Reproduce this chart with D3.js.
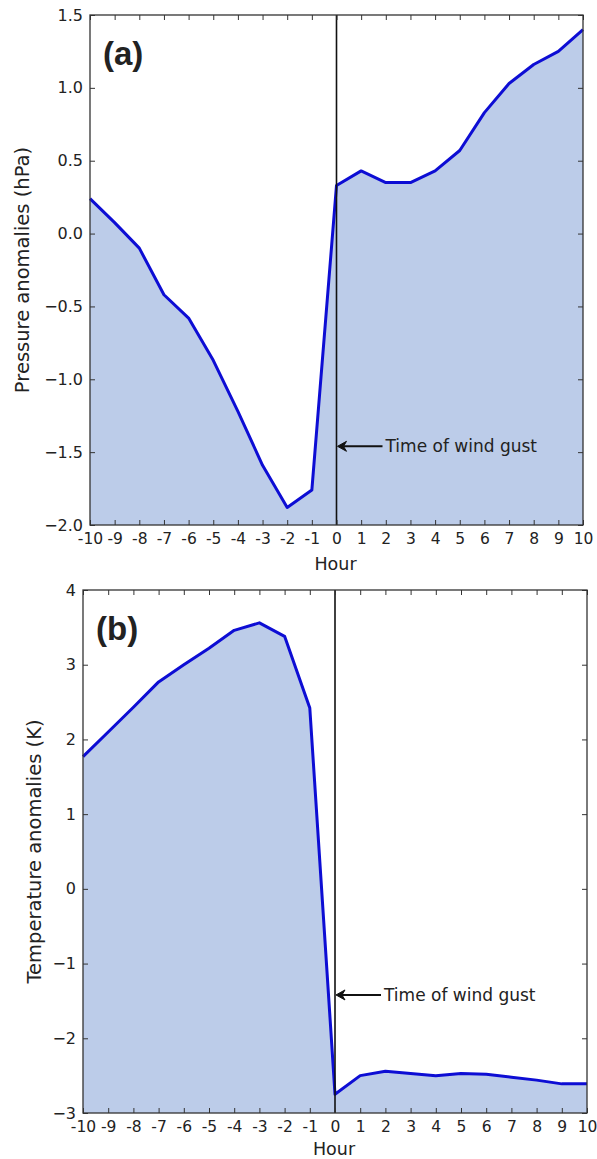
<!DOCTYPE html>
<html>
<head>
<meta charset="utf-8">
<script src="https://cdn.jsdelivr.net/npm/d3@7"></script>
<style>
  body { margin: 0; background: #fff; }
  svg text { font-family: "DejaVu Sans", sans-serif; fill: #222; }
</style>
</head>
<body>
<div id="chart"></div>
<script>
const hours = d3.range(-10, 11);
const pressure = [0.24, 0.075, -0.10, -0.42, -0.58, -0.87, -1.22, -1.59, -1.88, -1.76,
  0.33, 0.43, 0.35, 0.35, 0.43, 0.57, 0.83, 1.03, 1.16, 1.25, 1.40];
const temperature = [1.77, 2.1, 2.43, 2.77, 3.0, 3.22, 3.46, 3.56, 3.38, 2.42,
  -2.75, -2.5, -2.44, -2.47, -2.5, -2.47, -2.48, -2.52, -2.56, -2.61, -2.61];
const pressureTicks = [-2.0, -1.5, -1.0, -0.5, 0.0, 0.5, 1.0, 1.5];
const temperatureTicks = [-3, -2, -1, 0, 1, 2, 3, 4];
const annotation = "Time of wind gust";

const width = 597, height = 1159;
const svg = d3.select("#chart").append("svg")
  .attr("width", width).attr("height", height);

// y ticks use a true minus, x ticks a plain hyphen
const fmtMinus = s => s.replace("-", "\u2212");

function panel(cfg) {
  const x = d3.scaleLinear().domain([-10, 10]).range([cfg.left, cfg.right]);
  const y = d3.scaleLinear().domain(cfg.domain).range([cfg.bottom, cfg.top]);
  const g = svg.append("g");
  const data = hours.map((h, i) => ({ h, v: cfg.values[i] }));

  // filled area down to bottom of axes
  g.append("path")
    .datum(data)
    .attr("fill", "#bccce9")
    .attr("d", d3.area().x(d => x(d.h)).y0(cfg.bottom).y1(d => y(d.v)));

  g.append("path")
    .datum(data)
    .attr("fill", "none")
    .attr("stroke", "#0d0dd4")
    .attr("stroke-width", 3)
    .attr("stroke-linejoin", "round")
    .attr("d", d3.line().x(d => x(d.h)).y(d => y(d.v)));

  // vertical line at hour 0
  g.append("line")
    .attr("x1", x(0)).attr("x2", x(0))
    .attr("y1", cfg.top).attr("y2", cfg.bottom)
    .attr("stroke", "#111").attr("stroke-width", 1.6);

  // axes (ticks inward on all sides)
  const tl = 5;
  g.append("g").attr("transform", `translate(0,${cfg.bottom})`)
    .call(d3.axisBottom(x).tickValues(hours).tickSize(-tl).tickPadding(8).tickFormat(d => String(d)))
    .call(a => a.selectAll("text").attr("font-size", 15.5));
  g.append("g").attr("transform", `translate(0,${cfg.top})`)
    .call(d3.axisTop(x).tickValues(hours).tickSize(-tl).tickFormat(""));
  g.append("g").attr("transform", `translate(${cfg.left},0)`)
    .call(d3.axisLeft(y).tickValues(cfg.ticks).tickSize(-tl).tickPadding(7)
      .tickFormat(d => fmtMinus(d3.format(cfg.fmt)(d))))
    .call(a => a.selectAll("text").attr("font-size", 16));
  g.append("g").attr("transform", `translate(${cfg.right},0)`)
    .call(d3.axisRight(y).tickValues(cfg.ticks).tickSize(-tl).tickFormat(""));
  g.selectAll(".domain").remove();
  g.selectAll(".tick line").attr("stroke", "#333");
  g.selectAll(".tick text").attr("fill", "#222");

  g.append("rect")
    .attr("x", cfg.left).attr("y", cfg.top)
    .attr("width", cfg.right - cfg.left).attr("height", cfg.bottom - cfg.top)
    .attr("fill", "none").attr("stroke", "#333").attr("stroke-width", 1.3);

  // labels
  g.append("text")
    .attr("x", (cfg.left + cfg.right) / 2 - 1).attr("y", cfg.bottom + cfg.hourDy)
    .attr("text-anchor", "middle").attr("font-size", 17.5).text("Hour");
  g.append("text")
    .attr("transform", `translate(${cfg.ylabelX},${(cfg.top + cfg.bottom) / 2}) rotate(-90)`)
    .attr("text-anchor", "middle").attr("font-size", 19.5).text(cfg.ylabel);
  g.append("text")
    .attr("x", cfg.left + 13).attr("y", cfg.top + 50)
    .style("font-family", "'Liberation Sans', Arial, sans-serif")
    .attr("font-size", 33).attr("font-weight", "bold").attr("fill", "#111")
    .text(cfg.tag);

  // annotation arrow
  const ay = y(cfg.arrowAt);
  const x0 = x(0) + 1, x1 = x(0) + 46;
  g.append("line")
    .attr("x1", x0 + 6).attr("x2", x1).attr("y1", ay).attr("y2", ay)
    .attr("stroke", "#111").attr("stroke-width", 2);
  g.append("path")
    .attr("d", `M${x0},${ay} L${x0 + 9},${ay - 5} L${x0 + 6},${ay} L${x0 + 9},${ay + 5} Z`)
    .attr("fill", "#111").attr("stroke", "#111").attr("stroke-width", 1);
  g.append("text")
    .attr("x", x1 + 3).attr("y", ay + 6)
    .attr("font-size", 17).text(annotation);
}

panel({
  left: 90, right: 583, top: 15, bottom: 525,
  domain: [-2, 1.5], values: pressure, ticks: pressureTicks, fmt: ".1f",
  ylabel: "Pressure anomalies (hPa)", ylabelX: 29, tag: "(a)", arrowAt: -1.46, hourDy: 45
});

panel({
  left: 83, right: 587, top: 590, bottom: 1113,
  domain: [-3, 4], values: temperature, ticks: temperatureTicks, fmt: "d",
  ylabel: "Temperature anomalies (K)", ylabelX: 41, tag: "(b)", arrowAt: -1.42, hourDy: 42
});
</script>
</body>
</html>
